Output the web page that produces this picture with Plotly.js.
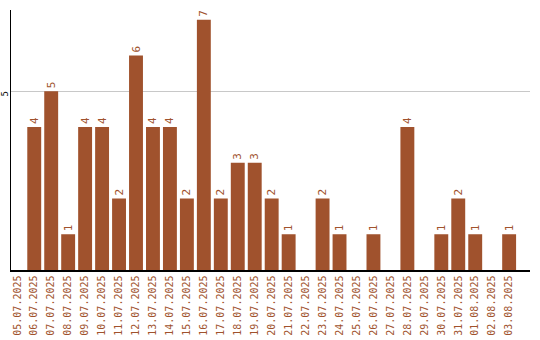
<!DOCTYPE html>
<html><head><meta charset="utf-8">
<script src="https://cdn.plot.ly/plotly-3.0.1.min.js"></script>
<style>html,body{margin:0;padding:0;background:#fff}#c{width:540px;height:340px}</style>
</head><body><div id="c"></div>
<script>
const dates = ["05.07.2025","06.07.2025","07.07.2025","08.07.2025","09.07.2025","10.07.2025","11.07.2025","12.07.2025","13.07.2025","14.07.2025","15.07.2025","16.07.2025","17.07.2025","18.07.2025","19.07.2025","20.07.2025","21.07.2025","22.07.2025","23.07.2025","24.07.2025","25.07.2025","26.07.2025","27.07.2025","28.07.2025","29.07.2025","30.07.2025","31.07.2025","01.08.2025","02.08.2025","03.08.2025"];
const counts = [0,4,5,1,4,4,2,6,4,4,2,7,2,3,3,2,1,0,2,1,0,1,0,4,0,1,2,1,0,1];
const yTicks = [5];
const color = "#A0522D";
const font = "DejaVu Sans Mono, Liberation Mono, monospace";
const labels = counts.map(v => v > 0 ? String(v) : "");
Plotly.newPlot("c", [{
  type: "bar", x: dates, y: counts,
  marker: {color: color},
  text: labels, textposition: "outside", textangle: -90,
  textfont: {family: font, size: 11, color: color},
  cliponaxis: false, hoverinfo: "none"
}], {
  width: 540, height: 340,
  margin: {l: 10.5, r: 9.5, t: 10, b: 70, pad: 0},
  paper_bgcolor: "#fff", plot_bgcolor: "#fff",
  bargap: 0.18, showlegend: false,
  xaxis: {type: "category", range: [-0.37, 30.23], showline: true, linecolor: "#000", linewidth: 1.5,
    tickangle: -90, tickfont: {family: font, size: 10, color: color}, ticks: "", showgrid: false, zeroline: false, fixedrange: true},
  yaxis: {range: [0, 7.27], showline: true, linecolor: "#000", linewidth: 1.5, tickmode: "array", tickvals: yTicks, ticktext: yTicks.map(String),
    tickangle: -90, ticklabelstandoff: -2, ticklabelshift: 4, tickfont: {family: font, size: 9, color: "#000"}, ticks: "", showgrid: true, gridcolor: "#c8c8c8", gridwidth: 1, zeroline: false, fixedrange: true}
}, {staticPlot: true, displayModeBar: false});
</script></body></html>
